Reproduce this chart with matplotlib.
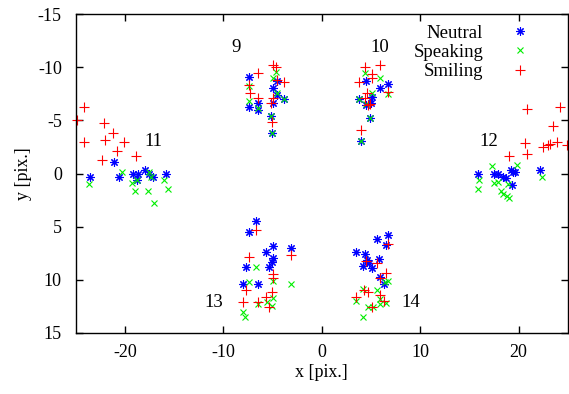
import numpy as np
import matplotlib
matplotlib.use("Agg")
import matplotlib.pyplot as plt

plt.rcParams['font.family'] = ['Liberation Serif', 'DejaVu Serif']
plt.rcParams['axes.unicode_minus'] = False

# Neutral points (x, y) in pixels
neutral_x = [-7.38, -7.38, -6.44, -6.44, -4.91, -4.57, -4.57, -3.83, -4.97, -5.18, -5.02,
             4.47, 3.82, 4.50, 4.97, 5.14, 5.92, 6.70, 4.90, 3.96,
             -21.06, -23.52, -20.58, -19.13, -18.68, -17.94, -17.60, -17.10, -15.84, -18.78,
             15.84, 17.52, 17.93, 18.38, 19.19, 19.45, 19.62, 19.29, 22.16, 18.70,
             -6.70, -7.35, -4.91, -5.65, -4.97, -5.08, -5.35, -3.15, -7.72, -7.96, -6.50,
             6.70, 5.58, 6.53, 3.48, 4.40, 4.63, 5.85, 4.22, 5.14, 5.92, 6.36, 4.83]
neutral_y = [-9.11, -6.28, -6.60, -5.97, -8.02, -8.73, -7.38, -6.98, -6.60, -5.41, -3.78,
             -8.73, -6.98, -6.44, -6.60, -7.22, -8.02, -8.42, -5.19, -3.09,
             -1.05, 0.33, 0.30, 0.05, 0.05, -0.36, 0.05, 0.30, 0.02, 0.61,
             0.02, 0.02, 0.02, 0.30, -0.33, -0.11, -0.11, 1.08, -0.33, 0.42,
             4.44, 5.48, 6.79, 7.36, 7.98, 8.30, 8.82, 7.04, 8.77, 10.40, 10.42,
             5.76, 6.19, 6.73, 7.36, 7.60, 8.14, 8.04, 8.70, 8.86, 9.71, 10.42, 8.45]

# Speaking points
speaking_x = [-7.38, -7.38, -6.47, -4.67, -4.91, -4.57, -3.83, -5.18, -5.02,
              4.40, 5.92, 5.08, 3.82, 4.50, 6.70, 4.90, 3.96,
              -23.62, -20.30, -19.23, -18.95, -18.78, -17.66, -17.53, -17.33, -15.98, -15.63, -17.00,
              17.32, 19.80, 15.97, 15.84, 17.52, 17.93, 18.17, 18.44, 18.78, 19.05, 18.88, 22.33,
              -6.70, -7.38, -4.91, -3.15, -4.97, -5.58, -5.08, -6.50, -7.96, -7.79,
              6.70, 6.43, 4.16, 5.58, 5.92, 3.48, 4.73, 5.24, 5.92, 6.53, 4.22]
speaking_y = [-8.23, -6.85, -6.16, -9.52, -8.96, -7.54, -6.98, -5.41, -3.78,
              -9.49, -8.96, -7.54, -6.98, -6.54, -7.48, -5.19, -3.09,
              1.02, -0.17, 0.92, 1.65, 0.61, 1.65, -0.11, 0.30, 0.61, 1.46, 2.80,
              -0.71, -0.80, 0.61, 1.46, 0.92, 0.77, 1.65, 1.96, 2.09, 2.33, 1.02, 0.30,
              8.77, 10.24, 10.11, 10.40, 11.74, 12.06, 12.44, 12.30, 13.00, 13.47,
              10.08, 10.18, 10.89, 10.96, 11.83, 11.97, 12.59, 12.53, 12.28, 12.21, 13.47]

# Smiling points
smiling_x = [-4.91, -4.67, -6.50, -7.38, -7.28, -6.44, -3.83, -4.97, -5.18, -5.02, -4.57,
             4.40, 5.92, 5.14, 3.79, 5.14, 4.57, 4.40, 4.90, 6.70, 3.96, 4.70,
             -24.20, -24.87, -22.17, -21.22, -22.00, -24.13, -20.14, -20.81, -18.85, -22.34,
             20.81, 24.22, 23.51, 20.64, 20.87, 19.05, 22.50, 23.01, 23.18, 23.86, 24.87,
             -6.67, -7.35, -3.15, -4.91, -4.97, -7.72, -5.02, -7.96, -6.50, -5.65, -5.35,
             6.70, 4.50, 5.58, 6.53, 5.92, 4.29, 4.73, 5.92, 3.48, 6.36, 5.14]
smiling_y = [-10.21, -9.99, -9.43, -8.32, -7.60, -7.07, -8.58, -7.07, -6.60, -4.87, -8.79,
             -10.05, -10.21, -9.36, -8.58, -8.96, -7.60, -7.07, -6.54, -7.70, -4.09, -6.44,
             -6.23, -5.03, -4.78, -3.84, -3.15, -2.99, -2.94, -2.14, -1.62, -1.24,
             -6.04, -6.23, -4.47, -2.90, -1.86, -1.62, -2.46, -2.68, -2.75, -2.99, -2.68,
             5.32, 7.83, 7.67, 9.45, 9.80, 10.96, 11.12, 12.12, 12.06, 11.59, 12.53,
             6.66, 8.23, 8.45, 9.33, 9.86, 10.96, 11.12, 11.43, 11.59, 11.99, 12.53]

# cluster labels
label_text = ['9', '10', '11', '12', '13', '14']
label_x = [-8.7, 5.9, -17.1, 17.0, -11.0, 9.0]
label_y = [-11.9, -11.9, -3.06, -3.06, 12.1, 12.1]

fig = plt.figure(figsize=(5.69, 3.94), dpi=100)
ax = fig.add_axes([0.133, 0.155, 0.865, 0.809])

asterisk = (8, 2, 0)
ax.plot(neutral_x, neutral_y, linestyle='none', marker=asterisk, color='#0000ff',
        markersize=6, markeredgewidth=0.8, label='Neutral', clip_on=False)
ax.plot(speaking_x, speaking_y, linestyle='none', marker='x', color='#00ee00',
        markersize=5, markeredgewidth=0.8, label='Speaking', clip_on=False)
ax.plot(smiling_x, smiling_y, linestyle='none', marker='+', color='#ff0000',
        markersize=6.5, markeredgewidth=0.8, label='Smiling', clip_on=False)

for t, lx, ly in zip(label_text, label_x, label_y):
    ax.text(lx, ly, t, fontsize=13.5, ha='center', va='center')

ax.set_xlim(-25, 25)
ax.set_ylim(15, -15)
ax.set_xticks([-20, -10, 0, 10, 20])
ax.set_yticks([-15, -10, -5, 0, 5, 10, 15])
ax.tick_params(direction='in', length=5, width=1, top=True, right=True,
               labelsize=13, pad=8)
ax.tick_params(axis='y', pad=10)
for s in ax.spines.values():
    s.set_linewidth(1.0)
ax.set_xlabel('x [pix.]', fontsize=13, labelpad=2)
ax.set_ylabel('y [pix.]', fontsize=13, labelpad=4)

ax.legend(loc='upper right', bbox_to_anchor=(538.5 / 569, 1 - 15 / 394),
          bbox_transform=fig.transFigure, frameon=False, markerfirst=False,
          handlelength=1.0, handletextpad=1.45, borderpad=0, labelspacing=0.12,
          fontsize=13.5)

plt.savefig('out.png', dpi=100)
